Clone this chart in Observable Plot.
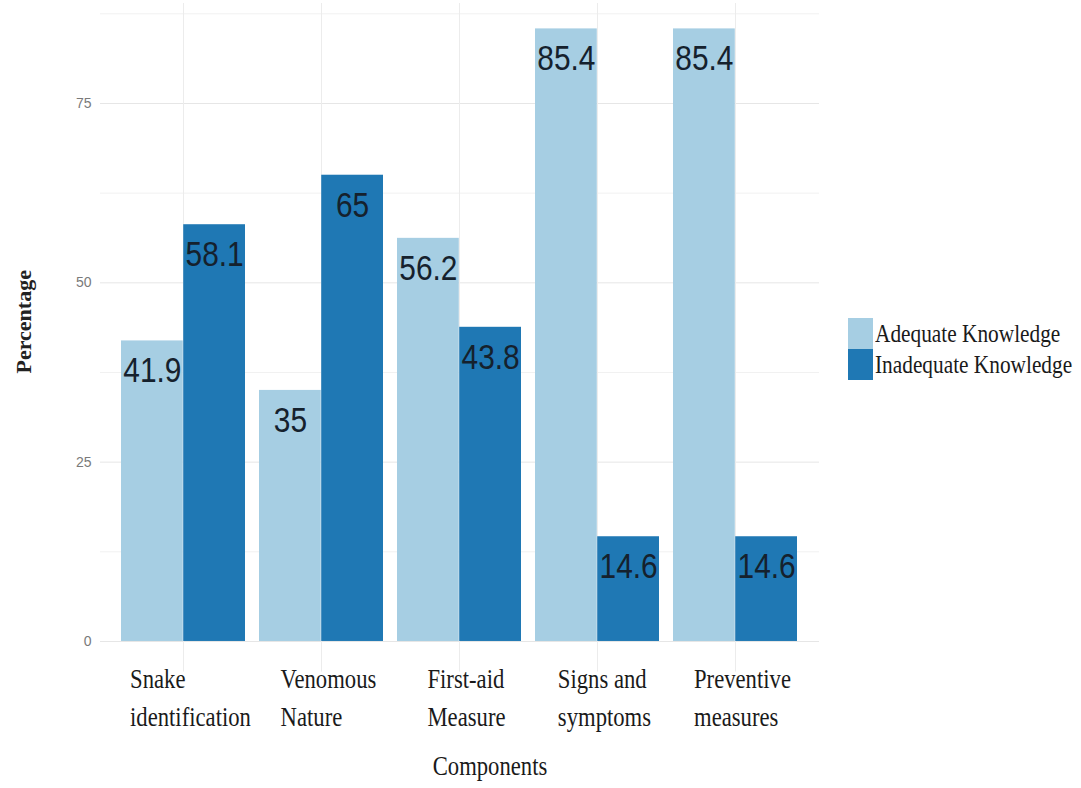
<!DOCTYPE html>
<html><head><meta charset="utf-8">
<script src="https://cdn.jsdelivr.net/npm/d3@7"></script>
<script src="https://cdn.jsdelivr.net/npm/@observablehq/plot@0.6"></script>
<style>
body{margin:0;background:#fff;}
#wrap{position:relative;width:1081px;height:788px;overflow:hidden;background:#fff;}
#wrap svg{position:absolute;left:0;top:0;}
#legend{position:absolute;left:848px;top:318px;font-family:"Liberation Serif",serif;font-size:26px;color:#1a1a1a;}
.row{display:flex;align-items:center;height:31px;}
.sw{width:25px;height:31px;flex:none;}
.lab{transform:scaleX(0.82);transform-origin:left center;white-space:nowrap;margin-left:2px;line-height:1;}
</style></head>
<body><div id="wrap"><div id="legend"></div></div>
<script>
// ---- data ----
const components = ["Snake identification","Venomous Nature","First-aid Measure","Signs and symptoms","Preventive measures"];
const componentLines = ["Snake\nidentification","Venomous\nNature","First-aid\nMeasure","Signs and\nsymptoms","Preventive\nmeasures"];
const series = ["Adequate Knowledge","Inadequate Knowledge"];
const adequate = [41.9, 35, 56.2, 85.4, 85.4];
const inadequate = [58.1, 65, 43.8, 14.6, 14.6];
const colors = ["#a6cee3", "#1f78b4"];
const yTicks = [0, 25, 50, 75];
const yMinor = [12.5, 37.5, 62.5, 87.5];

const adeqRows = components.map((c, i) => ({component: c, series: series[0], value: adequate[i]}));
const inadRows = components.map((c, i) => ({component: c, series: series[1], value: inadequate[i]}));

// ---- layout ----
const W = 1081, H = 788, mL = 100, mR = 262, mT = 3, mB = 116.4;
const pIn = 0.1, pOut = 0.15;
const step = (W - mL - mR) / (components.length - pIn + 2 * pOut);
const bw = step * (1 - pIn);
const half = bw / 2;

const txtLabel = {fontFamily: "Liberation Sans, Arial, sans-serif", fontSize: 36, fill: "#15212d", lineAnchor: "middle", dy: 30};

const svg = Plot.plot({
  width: W, height: H,
  marginLeft: mL, marginRight: mR, marginTop: mT, marginBottom: mB,
  x: {domain: components, paddingInner: pIn, paddingOuter: pOut, axis: null},
  y: {domain: [-4.27, 88.94], axis: null, label: null},
  color: {domain: series, range: colors},
  marks: [
    Plot.gridY(yMinor, {stroke: "#f1f1f1", strokeOpacity: 1}),
    Plot.gridY(yTicks, {stroke: "#e6e6e6", strokeOpacity: 1}),
    Plot.gridX(components, {stroke: "#ececec", strokeOpacity: 1}),
    Plot.axisY(yTicks, {tickSize: 0, tickPadding: 9, fontSize: 14, fill: "#7a7a7a", fontFamily: "Liberation Sans, Arial, sans-serif", label: null}),
    Plot.barY(adeqRows, {x: "component", y: "value", fill: "series", insetRight: half}),
    Plot.barY(inadRows, {x: "component", y: "value", fill: "series", insetLeft: half}),
    Plot.text(adeqRows, {...txtLabel, x: "component", y: "value", text: d => String(d.value), dx: -bw / 4}),
    Plot.text(inadRows, {...txtLabel, x: "component", y: "value", text: d => String(d.value), dx: bw / 4}),
    Plot.text(components, {x: d => d, text: (d, i) => componentLines[i], frameAnchor: "bottom", lineAnchor: "top", dy: -11, dx: 7,
      fontSize: 27, lineHeight: 1.4, fontFamily: "Liberation Serif, Times New Roman, serif", fill: "#1a1a1a"}),
    Plot.text(["Components"], {text: d => d, frameAnchor: "bottom", lineAnchor: "middle", dx: 30, dy: 94,
      fontSize: 27, fontFamily: "Liberation Serif, Times New Roman, serif", fill: "#1a1a1a"}),
    Plot.text(["Percentage"], {text: d => d, frameAnchor: "left", textAnchor: "middle", rotate: -90, dx: -77, dy: -16,
      fontSize: 22, fontWeight: "bold", fontFamily: "Liberation Serif, Times New Roman, serif", fill: "#222"})
  ]
});

const wrap = document.getElementById("wrap");
wrap.insertBefore(svg, wrap.firstChild);

// horizontally condense the large texts (the reference image is horizontally squeezed);
// multi-line category labels are left-aligned as a block centred on the group
const squeezeBySize = {"36": 0.83, "27": 0.84};
svg.querySelectorAll("text").forEach(el => {
  const holder = el.closest("[font-size]");
  const fs = holder ? String(parseFloat(holder.getAttribute("font-size"))) : null;
  const s = squeezeBySize[fs];
  if (!s) return;
  const t = el.getAttribute("transform") || "";
  const x = +el.getAttribute("x") || 0, y = +el.getAttribute("y") || 0;
  let extra = "";
  const spans = el.querySelectorAll("tspan");
  if (spans.length > 1) {
    const maxW = Math.max(...Array.from(spans, sp => sp.getComputedTextLength()));
    el.setAttribute("text-anchor", "start");
    extra = ` translate(${-maxW / 2},0)`;
  }
  el.setAttribute("transform", `${t} translate(${x},${y}) scale(${s},1) translate(${-x},${-y})${extra}`);
});

const legend = d3.select("#legend");
series.forEach((s, i) => {
  const row = legend.append("div").attr("class", "row");
  row.append("div").attr("class", "sw").style("background", colors[i]);
  row.append("span").attr("class", "lab").text(s);
});
</script>
</body></html>
